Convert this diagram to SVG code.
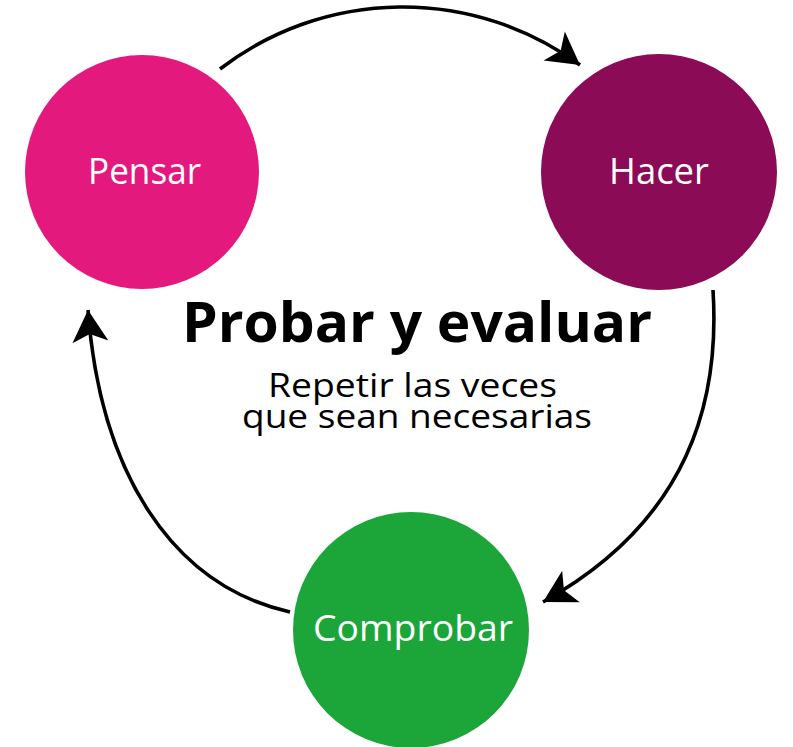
<svg xmlns="http://www.w3.org/2000/svg" width="793" height="747" viewBox="0 0 793 747">
<style>
.lbl{font-family:"Open Sans","Noto Sans","Liberation Sans",sans-serif;fill:#fff;font-size:36px}
.title{font-family:"Open Sans","Noto Sans","Liberation Sans",sans-serif;font-weight:bold;font-size:56px;fill:#000}
.sub{font-family:"Open Sans","Noto Sans","Liberation Sans",sans-serif;font-size:33px;fill:#000}
.conn{fill:none;stroke:#000;stroke-width:3.6}
</style>
<defs>
<marker id="ah" markerUnits="userSpaceOnUse" markerWidth="40" markerHeight="40" viewBox="-4 -20 40 40" refX="32" refY="0" orient="auto">
<path d="M0,-18 L32,0 L0,18 L8,0 Z" fill="#000"/>
</marker>
</defs>
<rect width="793" height="747" fill="#fff"/>
<g id="connectors">
<path class="conn" d="M220,69 A300 300 0 0 1 580,65" marker-end="url(#ah)"/>
<path class="conn" d="M713,290 C720,400 690,520 543,602" marker-end="url(#ah)"/>
<path class="conn" d="M290,612 C170,585 100,470 88,310" marker-end="url(#ah)"/>
</g>
<g id="pensar">
<circle cx="142" cy="172" r="117" fill="#E4197E"/>
<text class="lbl" x="88" y="184" textLength="113" lengthAdjust="spacingAndGlyphs">Pensar</text>
</g>
<g id="hacer">
<circle cx="659" cy="172" r="118" fill="#8B0B57"/>
<text class="lbl" x="609" y="184" textLength="100" lengthAdjust="spacingAndGlyphs">Hacer</text>
</g>
<g id="comprobar">
<circle cx="411" cy="630" r="118" fill="#1CA63A"/>
<text class="lbl" x="313" y="641" textLength="200" lengthAdjust="spacingAndGlyphs">Comprobar</text>
</g>
<g id="center-text">
<text class="title" x="182" y="342" textLength="470" lengthAdjust="spacingAndGlyphs">Probar y evaluar</text>
<text class="sub" x="268" y="397" textLength="289" lengthAdjust="spacingAndGlyphs">Repetir las veces</text>
<text class="sub" x="242" y="428" textLength="350" lengthAdjust="spacingAndGlyphs">que sean necesarias</text>
</g>
</svg>
